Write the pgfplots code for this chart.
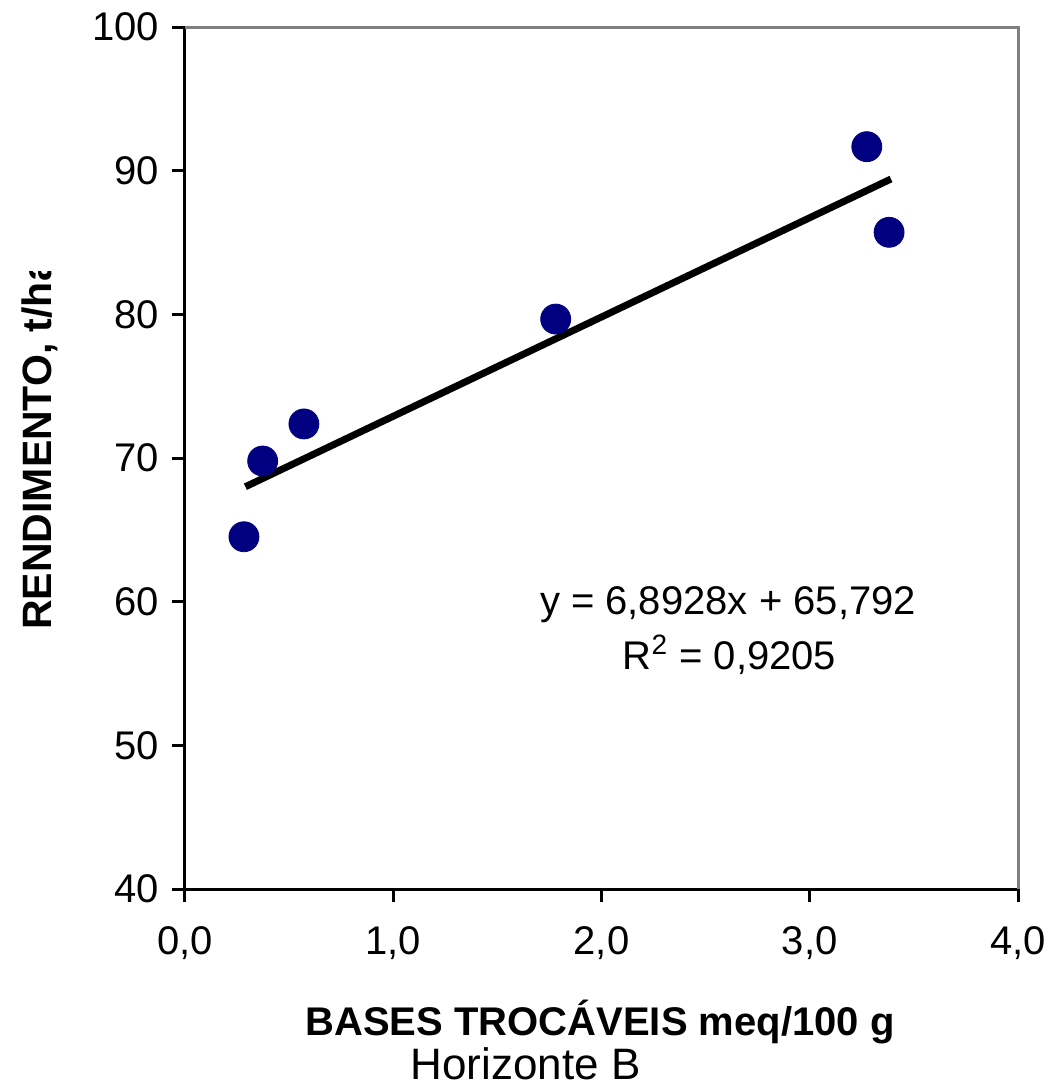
\documentclass[border=0pt]{standalone}
\usepackage{fontspec}
\setmainfont{Liberation Sans}
\usepackage{pgfplots}
\pgfplotsset{compat=1.18}
\definecolor{navyblob}{HTML}{000080}
\definecolor{framegray}{HTML}{808080}
\begin{document}
\begin{tikzpicture}
\begin{axis}[
  name=ax,
  at={(0,0)}, anchor=south west,
  scale only axis,
  width=416.5pt, height=431pt,
  xmin=0, xmax=4, ymin=40, ymax=100,
  xtick={0,1,2,3,4}, ytick={40,50,60,70,80,90,100},
  axis x line*=bottom, axis y line*=left,
  axis line style={black, line width=1.5pt},
  tick align=outside,
  major tick length=6.5pt,
  every tick/.style={black, line width=1.5pt},
  tick label style={font=\fontsize{20}{24}\selectfont},
  /pgf/number format/assume math mode=true,
  xticklabel style={/pgf/number format/.cd, fixed, fixed zerofill, precision=1, use comma, /tikz/.cd, yshift=-9pt},
  yticklabel style={xshift=-3pt},
  clip=false,
]
\draw[framegray, line width=1.5pt] (rel axis cs:0,1) -- (rel axis cs:1,1) -- (rel axis cs:1,0);
\addplot[black, line width=3.5pt, line cap=butt] coordinates {(0.29,68.0) (3.39,89.42)};
\addplot[only marks, mark=*, mark size=7.5pt, mark options={fill=navyblob, draw=navyblob}] coordinates {
(0.283,64.52) (0.373,69.79) (0.571,72.37) (1.780,79.67) (3.274,91.67) (3.381,85.71)};
\end{axis}
\coordinate (O) at (ax.south west);
\node[anchor=base, font=\fontsize{20}{24}\selectfont\bfseries] at ([shift={(207.5pt,-73.5pt)}]O) {BASES TROCÁVEIS meq/100 g};
\node[anchor=base, font=\fontsize{22}{26}\selectfont] at ([shift={(170.25pt,-95pt)}]O) {Horizonte B};
\node[anchor=base, font=\fontsize{20}{24}\selectfont] at ([shift={(271.5pt,137pt)}]O) {y = 6,8928x + 65,792};
\node[anchor=base, font=\fontsize{20}{24}\selectfont] at ([shift={(272.25pt,109.5pt)}]O) {R\textsuperscript{2} = 0,9205};
\begin{scope}
\clip ([shift={(-92.5pt,0pt)}]O) rectangle ([shift={(-40pt,308.5pt)}]O);
\node[anchor=base, rotate=90, font=\fontsize{20.5}{24}\selectfont\bfseries] at ([shift={(-66.5pt,222.3pt)}]O) {RENDIMENTO, t/ha};
\end{scope}
\pgfresetboundingbox
\path ([shift={(-92.5pt,-99.5pt)}]O) rectangle ([shift={(432.5pt,444.5pt)}]O);
\end{tikzpicture}
\end{document}
